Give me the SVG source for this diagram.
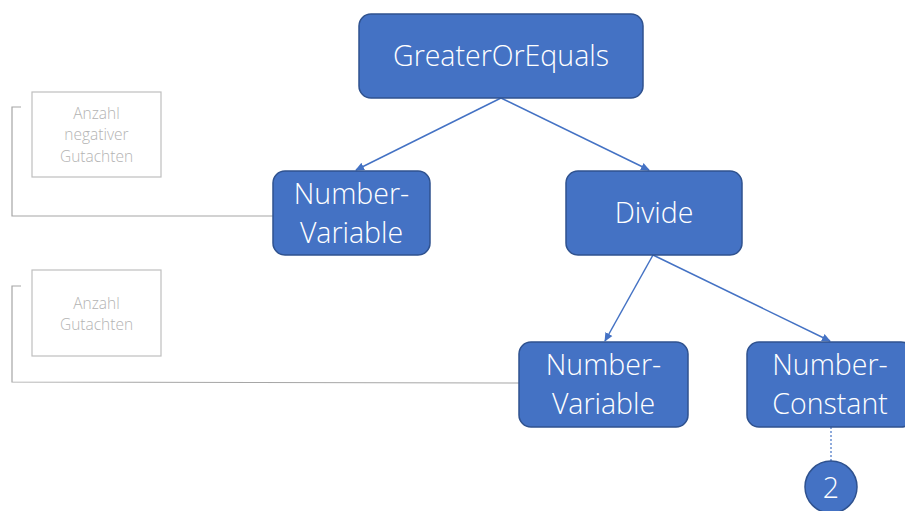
<svg xmlns="http://www.w3.org/2000/svg" width="905" height="511" viewBox="0 0 905 511">
  <style>
    .node rect, .node circle { fill: #4472C4; stroke: #2F528F; stroke-width: 1.5; }
    .node text { fill: #ffffff; font-family: "Open Sans", "Liberation Sans", sans-serif; font-weight: 300; font-size: 28.5px; text-anchor: middle; }
    .edge { stroke: #4472C4; stroke-width: 1.5; fill: none; marker-end: url(#arrow); }
    .note rect { fill: #ffffff; stroke: #bfbfbf; stroke-width: 1.2; }
    .note text { fill: #b3b3b3; font-family: "Open Sans", "Liberation Sans", sans-serif; font-weight: 300; font-size: 15.5px; text-anchor: middle; }
    .bracket { stroke: #a6a6a6; stroke-width: 1.2; fill: none; }
    .dotted { stroke: #4472C4; stroke-width: 1.2; stroke-dasharray: 2 2; fill: none; }
  </style>
  <defs>
    <marker id="arrow" markerWidth="10" markerHeight="10" refX="8" refY="5" orient="auto" markerUnits="userSpaceOnUse">
      <path d="M0,1 L9,5 L0,9 Z" fill="#4472C4"/>
    </marker>
  </defs>

  <rect width="905" height="511" fill="#ffffff"/>

  <!-- connectors -->
  <g id="connectors">
    <line class="edge" x1="501" y1="98" x2="356" y2="170"/>
    <line class="edge" x1="501" y1="98" x2="649" y2="170"/>
    <line class="edge" x1="653" y1="255" x2="605" y2="341"/>
    <line class="edge" x1="653" y1="255" x2="830" y2="341"/>
    <line class="dotted" x1="831" y1="427" x2="831" y2="461"/>
    <polyline class="bracket" points="21,107 12,107 12,216 273,216"/>
    <polyline class="bracket" points="21,286 12,286 12,382 519,383"/>
  </g>

  <!-- annotation boxes -->
  <g id="note-negative" class="note">
    <rect x="32" y="92" width="129" height="85"/>
    <text x="96.5" y="119">Anzahl</text>
    <text x="96.5" y="140">negativer</text>
    <text x="96.5" y="162">Gutachten</text>
  </g>
  <g id="note-total" class="note">
    <rect x="32" y="270" width="129" height="86"/>
    <text x="96.5" y="309">Anzahl</text>
    <text x="96.5" y="330">Gutachten</text>
  </g>

  <!-- nodes -->
  <g id="greater-or-equals" class="node">
    <rect x="359" y="14" width="284" height="84" rx="12"/>
    <text x="501" y="66">GreaterOrEquals</text>
  </g>
  <g id="number-variable-1" class="node">
    <rect x="273" y="171" width="157" height="84" rx="12"/>
    <text x="351.5" y="204">Number-</text>
    <text x="351.5" y="243">Variable</text>
  </g>
  <g id="divide" class="node">
    <rect x="566" y="171" width="176" height="84" rx="12"/>
    <text x="654" y="223">Divide</text>
  </g>
  <g id="number-variable-2" class="node">
    <rect x="519" y="342" width="169" height="85" rx="12"/>
    <text x="603.5" y="375">Number-</text>
    <text x="603.5" y="414">Variable</text>
  </g>
  <g id="number-constant" class="node">
    <rect x="747" y="342" width="166" height="85" rx="12"/>
    <text x="830" y="375">Number-</text>
    <text x="830" y="414">Constant</text>
  </g>
  <g id="constant-value" class="node">
    <circle cx="831" cy="487" r="26"/>
    <text x="831" y="498">2</text>
  </g>
</svg>
